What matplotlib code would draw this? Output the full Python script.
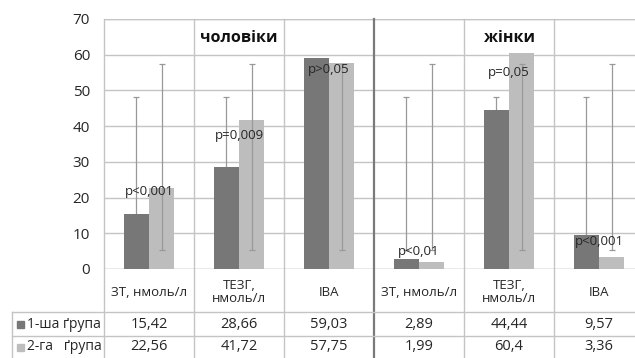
import numpy as np
import matplotlib.pyplot as plt
import matplotlib.transforms as mtransforms
from matplotlib.patches import Rectangle

plt.rcParams['font.family'] = ['Open Sans', 'DejaVu Sans']

categories = ['ЗТ, нмоль/л', 'ТЕЗГ,\nнмоль/л', 'ІВА', 'ЗТ, нмоль/л', 'ТЕЗГ,\nнмоль/л', 'ІВА']
group1 = [15.42, 28.66, 59.03, 2.89, 44.44, 9.57]
group2 = [22.56, 41.72, 57.75, 1.99, 60.4, 3.36]
series_names = ['1-ша ґрупа', '2-га   ґрупа']
# error bar ends (same in every category)
err1_low, err1_high = 5.3, 48.2
err2_low, err2_high = 5.3, 57.4
p_labels = ['p<0,001', 'p=0,009', 'p>0,05', 'p<0,01', 'p=0,05', 'p<0,001']
p_y = [21.6, 37.5, 56.0, 4.8, 54.9, 7.8]
sections = ['чоловіки', 'жінки']
section_pos = [1, 4]

W, H = 635, 358
dark = '#777777'
light = '#bdbdbd'
gridc = '#c4c4c4'
txt = '#262626'

fig = plt.figure(figsize=(W / 100, H / 100), dpi=100)
ax = fig.add_axes([104 / W, (H - 269) / H, 531 / W, 250 / H])

x = np.arange(len(categories))
bw = 0.28
ax.bar(x - bw / 2, group1, bw, color=dark, zorder=2)
ax.bar(x + bw / 2, group2, bw, color=light, zorder=2)

# error bars span a fixed range, so draw them from their ends
# (the dark series' bars hide their own error line)
n = len(x)
for off, lo, hi, z in [(-bw / 2, err1_low, err1_high, 1.5), (bw / 2, err2_low, err2_high, 3)]:
    ax.errorbar(x + off, [(lo + hi) / 2] * n, yerr=[(hi - lo) / 2] * n, fmt='none',
                ecolor='#999999', elinewidth=0.9, capsize=2.5, capthick=0.9, zorder=z)

for i, lab in enumerate(p_labels):
    ax.text(x[i], p_y[i], lab, ha='center', va='center', fontsize=9.5, color=txt, zorder=4)

for name, pos in zip(sections, section_pos):
    ax.text(pos, 64.7, name, ha='center', va='center', fontsize=11.5,
            fontweight='bold', color='#111111', zorder=4)

ax.set_xlim(-0.5, 5.4)
ax.set_ylim(0, 70)
ax.set_yticks(range(0, 71, 10))
ax.tick_params(axis='y', length=0, pad=10, labelsize=11, labelcolor=txt)
ax.set_xticks([])
ax.yaxis.grid(True, color=gridc, lw=1, zorder=0)
ax.set_axisbelow(True)
for s in ax.spines.values():
    s.set_visible(False)
ax.axhline(70, color=gridc, lw=1, zorder=1)
ax.axhline(0, color=gridc, lw=1, zorder=1)

# table under the plot
trans = mtransforms.blended_transform_factory(ax.transData, fig.transFigure)


def fy(py):
    return 1 - py / H


bounds = np.arange(-0.5, 6, 1.0)
for b in bounds:
    sep = b == 2.5
    ax.plot([b, b], [fy(19), fy(H)], transform=trans, clip_on=False,
            color='#7a7a7a' if sep else gridc, lw=1.6 if sep else 1, zorder=1)

for py in [312, 336]:
    fig.add_artist(plt.Line2D([12 / W, 1], [fy(py), fy(py)], color=gridc, lw=1))
fig.add_artist(plt.Line2D([12 / W, 12 / W], [fy(312), fy(H)], color=gridc, lw=1))

for i, c in enumerate(categories):
    ax.text(x[i], fy(292), c, transform=trans, ha='center', va='center',
            fontsize=9.5, color=txt, linespacing=1.05)
    ax.text(x[i], fy(324), f'{group1[i]:g}'.replace('.', ','), transform=trans,
            ha='center', va='center', fontsize=10.5, color=txt)
    ax.text(x[i], fy(347), f'{group2[i]:g}'.replace('.', ','), transform=trans,
            ha='center', va='center', fontsize=10.5, color=txt)

for row, (name, col) in enumerate(zip(series_names, [dark, light])):
    yc = 324 + row * 23
    fig.add_artist(Rectangle((17 / W, fy(yc + 3.5)), 7 / W, 7 / H, color=col,
                             transform=fig.transFigure))
    fig.text(27 / W, fy(yc), name, ha='left', va='center', fontsize=10, color=txt)

fig.savefig('out.png', dpi=100)
